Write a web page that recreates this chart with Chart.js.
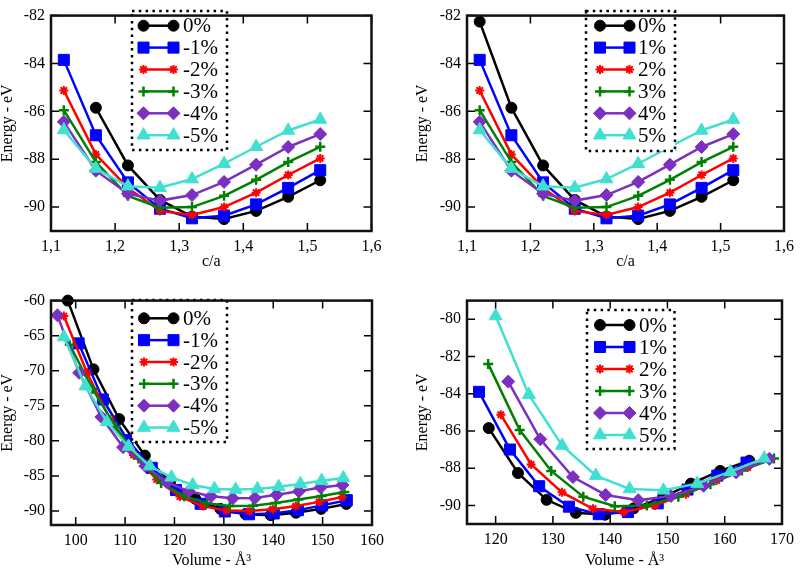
<!DOCTYPE html>
<html><head><meta charset="utf-8">
<script src="https://cdn.jsdelivr.net/npm/chart.js@4.4.1/dist/chart.umd.min.js"></script>
<style>
html,body{margin:0;padding:0;background:#fff;}
body{width:800px;height:569px;position:relative;overflow:hidden;font-family:"Liberation Serif","Times New Roman",serif;}
canvas{position:absolute;}
</style></head><body>
<canvas id="c1" width="400" height="285" style="left:0;top:0"></canvas>
<canvas id="c2" width="400" height="285" style="left:400px;top:0"></canvas>
<canvas id="c3" width="400" height="284" style="left:0;top:285px"></canvas>
<canvas id="c4" width="400" height="284" style="left:400px;top:285px"></canvas>
<script>
// ---------- DATA ----------
// Panel 1 & 2: energy vs c/a
const caX = [1.12,1.17,1.22,1.27,1.32,1.37,1.42,1.47,1.52];
const caX0p1 = [1.17,1.22,1.27,1.32,1.37,1.42,1.47,1.52];
const caE0p1 = [-85.85,-88.26,-89.7,-90.4,-90.5,-90.16,-89.57,-88.88];
const caE0p2 = [-82.25,-85.85,-88.26,-89.7,-90.4,-90.5,-90.16,-89.57,-88.88];
const caE1 = [-83.85,-87.0,-88.97,-90.07,-90.47,-90.36,-89.89,-89.2,-88.46];
const caE2 = [-85.13,-87.8,-89.2,-90.16,-90.33,-90.0,-89.4,-88.66,-87.97];
const caE3 = [-85.95,-88.12,-89.53,-90.03,-90.0,-89.53,-88.86,-88.12,-87.48];
const caE4 = [-86.44,-88.48,-89.44,-89.73,-89.5,-88.95,-88.23,-87.49,-86.95];
const caE5 = [-86.78,-88.39,-89.13,-89.19,-88.83,-88.19,-87.48,-86.8,-86.34];

// Panel 3: energy vs volume, negative strain
const v3_0 = [98.4,103.6,108.8,114.0,119.1,124.2,129.3,134.4,139.5,144.6,149.7,154.8];
const e3_0 = [-60.0,-69.8,-76.9,-82.1,-85.85,-88.26,-89.7,-90.45,-90.6,-90.25,-89.7,-89.0];
const v3_1 = [100.6,105.5,110.5,115.4,120.3,125.3,130.2,135.1,140.1,145.0,149.9,154.9];
const e3_1 = [-66.1,-74.1,-79.9,-83.85,-87.0,-88.97,-90.07,-90.47,-90.36,-89.89,-89.2,-88.46];
const v3_2 = [97.6,102.3,107.0,111.7,116.4,121.1,125.8,130.5,135.2,139.9,144.6,149.3,154.0];
const e3_2 = [-62.2,-70.3,-77.0,-82.0,-85.5,-87.95,-89.3,-89.95,-90.0,-89.75,-89.3,-88.7,-88.0];
const v3_3 = [98.8,103.4,108.1,112.7,117.3,122.0,126.6,131.2,135.9,140.5,145.1,149.8,154.4];
const e3_3 = [-66.3,-72.6,-78.0,-82.5,-86.0,-87.9,-88.9,-89.3,-89.25,-88.85,-88.35,-87.85,-87.3];
const v3_4 = [96.3,100.7,105.2,109.6,114.1,118.5,122.9,127.4,131.8,136.3,140.7,145.2,149.6,154.0];
const e3_4 = [-62.1,-70.3,-76.6,-80.9,-83.6,-85.9,-87.2,-87.9,-88.2,-88.15,-87.7,-87.2,-86.65,-86.3];
const v3_5 = [97.6,102.0,106.3,110.7,115.0,119.4,123.7,128.1,132.4,136.8,141.1,145.5,149.8,154.2];
const e3_5 = [-65.2,-72.2,-77.3,-80.8,-83.6,-85.2,-86.3,-86.85,-86.95,-86.85,-86.55,-86.15,-85.7,-85.3];

// Panel 4: energy vs volume, positive strain
const v4_0 = [118.8,123.9,128.9,134.0,139.1,144.1,149.2,154.1,159.2,164.3];
const e4_0 = [-85.85,-88.26,-89.7,-90.4,-90.5,-90.16,-89.57,-88.83,-88.15,-87.6];
const v4_1 = [117.1,122.5,127.6,132.8,138.0,143.1,148.3,153.5,158.7,163.8];
const e4_1 = [-83.9,-87.0,-88.97,-90.07,-90.47,-90.36,-89.89,-89.15,-88.4,-87.7];
const v4_2 = [120.9,126.2,131.6,137.0,142.4,147.8,153.2,158.6,164.0];
const e4_2 = [-85.13,-87.8,-89.3,-90.18,-90.35,-90.0,-89.4,-88.66,-87.97];
const v4_3 = [118.7,124.2,129.7,135.3,140.8,146.4,151.9,157.5,163.0,168.6];
const e4_3 = [-82.4,-85.95,-88.15,-89.53,-90.04,-90.0,-89.53,-88.86,-88.12,-87.48];
const v4_4 = [122.2,127.8,133.5,139.2,144.9,150.6,156.3,162.0,167.8];
const e4_4 = [-83.35,-86.45,-88.48,-89.44,-89.72,-89.5,-88.95,-88.23,-87.5];
const v4_5 = [120.0,125.8,131.6,137.5,143.4,149.3,155.2,161.0,166.9];
const e4_5 = [-79.83,-84.05,-86.78,-88.4,-89.12,-89.19,-88.83,-88.19,-87.47];

const labelsNeg = ['0%','-1%','-2%','-3%','-4%','-5%'];
const labelsPos = ['0%','1%','2%','3%','4%','5%'];

const ticksCaX = [1.1,1.2,1.3,1.4,1.5,1.6];
const ticksCaY = [-90,-88,-86,-84,-82];
const ticksV3X = [100,110,120,130,140,150,160];
const ticksV3Y = [-90,-85,-80,-75,-70,-65,-60];
const ticksV4X = [120,130,140,150,160,170];
const ticksV4Y = [-90,-88,-86,-84,-82,-80];

// ---------- STYLES ----------
const FONT = "'Liberation Serif', 'Times New Roman', Times, serif";
const STY = [
  {c:'#000000', ps:'circle',   r:5.5, bw:1},
  {c:'#0000ff', ps:'rect',     r:7.8, bw:1},
  {c:'#ff0000', ps:'star',     r:4.5, bw:2},
  {c:'#008000', ps:'cross',    r:5,   bw:2.5},
  {c:'#7b30c0', ps:'rectRot',  r:6.5, bw:1},
  {c:'#40e0d0', ps:'triangle', r:7.5, bw:1}
];

function pts(xs, ys){ return xs.map((x,i)=>({x:x, y:ys[i]})); }

function makeDatasets(series){
  return series.map((s,i)=>({
    data: pts(s[0], s[1]),
    borderColor: STY[i].c, backgroundColor: STY[i].c,
    borderWidth: 2.5,
    pointStyle: STY[i].ps, pointRadius: STY[i].r, pointBorderWidth: STY[i].bw,
    pointBackgroundColor: STY[i].c, pointBorderColor: STY[i].c,
    tension: 0, clip: false, order: 5 - i
  }));
}

function drawMarker(ctx, st, x, y){
  ctx.save();
  ctx.fillStyle = st.c; ctx.strokeStyle = st.c; ctx.lineWidth = st.bw;
  if (Chart.helpers && Chart.helpers.drawPoint) {
    Chart.helpers.drawPoint(ctx, {pointStyle: st.ps, radius: st.r, rotation: 0, borderWidth: st.bw}, x, y);
  } else {
    ctx.beginPath(); ctx.arc(x,y,st.r,0,Math.PI*2); ctx.fill();
  }
  ctx.restore();
}

const framePlugin = {
  id: 'frame',
  afterDatasetsDraw(chart, args, opts){
    const ctx = chart.ctx;
    const {left, right, top, bottom} = chart.chartArea;
    const xs = chart.scales.x, ys = chart.scales.y;
    ctx.save();
    ctx.strokeStyle = '#000'; ctx.lineWidth = 1.5;
    const tl = 8;
    ctx.beginPath();
    xs.ticks.forEach(t=>{ const p = xs.getPixelForValue(t.value);
      ctx.moveTo(p,bottom); ctx.lineTo(p,bottom-tl); ctx.moveTo(p,top); ctx.lineTo(p,top+tl); });
    ys.ticks.forEach(t=>{ const p = ys.getPixelForValue(t.value);
      ctx.moveTo(left,p); ctx.lineTo(left+tl,p); ctx.moveTo(right,p); ctx.lineTo(right-tl,p); });
    ctx.stroke();
    // legend
    const lg = opts.legend;
    ctx.fillStyle = '#fff';
    ctx.fillRect(lg.x1, lg.y1, lg.x2-lg.x1, lg.y2-lg.y1);
    ctx.setLineDash([2.5,4.3]); ctx.lineWidth = 2.5; ctx.strokeStyle = '#000';
    ctx.strokeRect(lg.x1, lg.y1, lg.x2-lg.x1, lg.y2-lg.y1);
    ctx.setLineDash([]);
    opts.labels.forEach((lab,i)=>{
      const y = lg.row0 + i*lg.step;
      ctx.strokeStyle = STY[i].c; ctx.lineWidth = 2.5;
      ctx.beginPath(); ctx.moveTo(lg.m1,y); ctx.lineTo(lg.m2,y); ctx.stroke();
      drawMarker(ctx, STY[i], lg.m1, y);
      drawMarker(ctx, STY[i], lg.m2, y);
      ctx.fillStyle = '#000'; ctx.font = '21px ' + FONT;
      ctx.textAlign = 'left'; ctx.textBaseline = 'middle';
      ctx.fillText(lab, lg.tx, y+1);
    });
    // frame
    ctx.lineWidth = 2.5; ctx.strokeStyle = '#111';
    ctx.strokeRect(left, top, right-left, bottom-top);
    ctx.restore();
  }
};

function makePanel(id, g, series, labels, ax){
  const xAxisH = g.xTitleY - g.B + 8;
  const padB = Math.max(0, g.H - g.B - xAxisH);
  new Chart(document.getElementById(id), {
    type: 'line',
    data: { datasets: makeDatasets(series) },
    plugins: [framePlugin],
    options: {
      responsive: false, animation: false, events: [],
      layout: { padding: { left: 0, top: g.T, right: g.W - g.R, bottom: padB } },
      plugins: { legend: {display:false}, tooltip: {enabled:false},
        frame: { legend: g.lg, labels: labels } },
      scales: {
        x: { type:'linear', min: ax.xr[0], max: ax.xr[1],
          grid: {display:false, drawTicks:false}, border: {display:false},
          afterBuildTicks: s => { s.ticks = ax.xt.map(v=>({value:v})); },
          afterFit: s => { s.height = xAxisH; },
          ticks: { autoSkip:false, maxRotation:0, padding: 6, color:'#000',
            font:{family:FONT, size:16}, callback: ax.xf },
          title: { display:true, text: ax.xTitle, color:'#000', padding:{top:0,bottom:0},
            font:{family:FONT, size:16, lineHeight:1} } },
        y: { type:'linear', min: ax.yr[0], max: ax.yr[1],
          grid: {display:false, drawTicks:false}, border: {display:false},
          afterBuildTicks: s => { s.ticks = ax.yt.map(v=>({value:v})); },
          afterFit: s => { s.width = g.L; },
          ticks: { autoSkip:false, padding: 6, color:'#000',
            font:{family:FONT, size:16}, callback: v => String(v) },
          title: { display:true, text:'Energy - eV', color:'#000',
            padding:{top: g.yTitleX - 8, bottom:0},
            font:{family:FONT, size:16, lineHeight:1} } }
      }
    }
  });
}

const fmtCa = v => v.toFixed(1).replace('.', ',');
const fmtInt = v => String(Math.round(v));

makePanel('c1',
  {W:400,H:285,L:51,R:371.5,T:5,B:231,xTitleY:262,yTitleX:7.5,
   lg:{x1:132,y1:11,x2:227,y2:150,row0:25.7,step:21.9,m1:143.5,m2:173.5,tx:183}},
  [[caX0p1,caE0p1],[caX,caE1],[caX,caE2],[caX,caE3],[caX,caE4],[caX,caE5]],
  labelsNeg,
  {xr:[1.1,1.6], yr:[-91,-82], xt:ticksCaX, yt:ticksCaY, xf:fmtCa, xTitle:'c/a'});

makePanel('c2',
  {W:400,H:285,L:67,R:388,T:5,B:231,xTitleY:262,yTitleX:22.5,
   lg:{x1:186,y1:11,x2:275,y2:151,row0:25.7,step:21.9,m1:200,m2:229.5,tx:238}},
  [[caX,caE0p2],[caX,caE1],[caX,caE2],[caX,caE3],[caX,caE4],[caX,caE5]],
  labelsPos,
  {xr:[1.1,1.6], yr:[-91,-82], xt:ticksCaX, yt:ticksCaY, xf:fmtCa, xTitle:'c/a'});

makePanel('c3',
  {W:400,H:284,L:51,R:372,T:14,B:240,xTitleY:276,yTitleX:7.5,
   lg:{x1:132,y1:15,x2:227,y2:157,row0:33.3,step:21.85,m1:144,m2:173.5,tx:183}},
  [[v3_0,e3_0],[v3_1,e3_1],[v3_2,e3_2],[v3_3,e3_3],[v3_4,e3_4],[v3_5,e3_5]],
  labelsNeg,
  {xr:[95,160], yr:[-92,-60], xt:ticksV3X, yt:ticksV3Y, xf:fmtInt, xTitle:'Volume - Å³'});

makePanel('c4',
  {W:400,H:284,L:67,R:388,T:14,B:239,xTitleY:276,yTitleX:22.5,
   lg:{x1:187,y1:25,x2:274.5,y2:164,row0:40,step:22,m1:200,m2:229.5,tx:239}},
  [[v4_0,e4_0],[v4_1,e4_1],[v4_2,e4_2],[v4_3,e4_3],[v4_4,e4_4],[v4_5,e4_5]],
  labelsPos,
  {xr:[115,170], yr:[-91,-79], xt:ticksV4X, yt:ticksV4Y, xf:fmtInt, xTitle:'Volume - Å³'});
</script>
</body></html>
